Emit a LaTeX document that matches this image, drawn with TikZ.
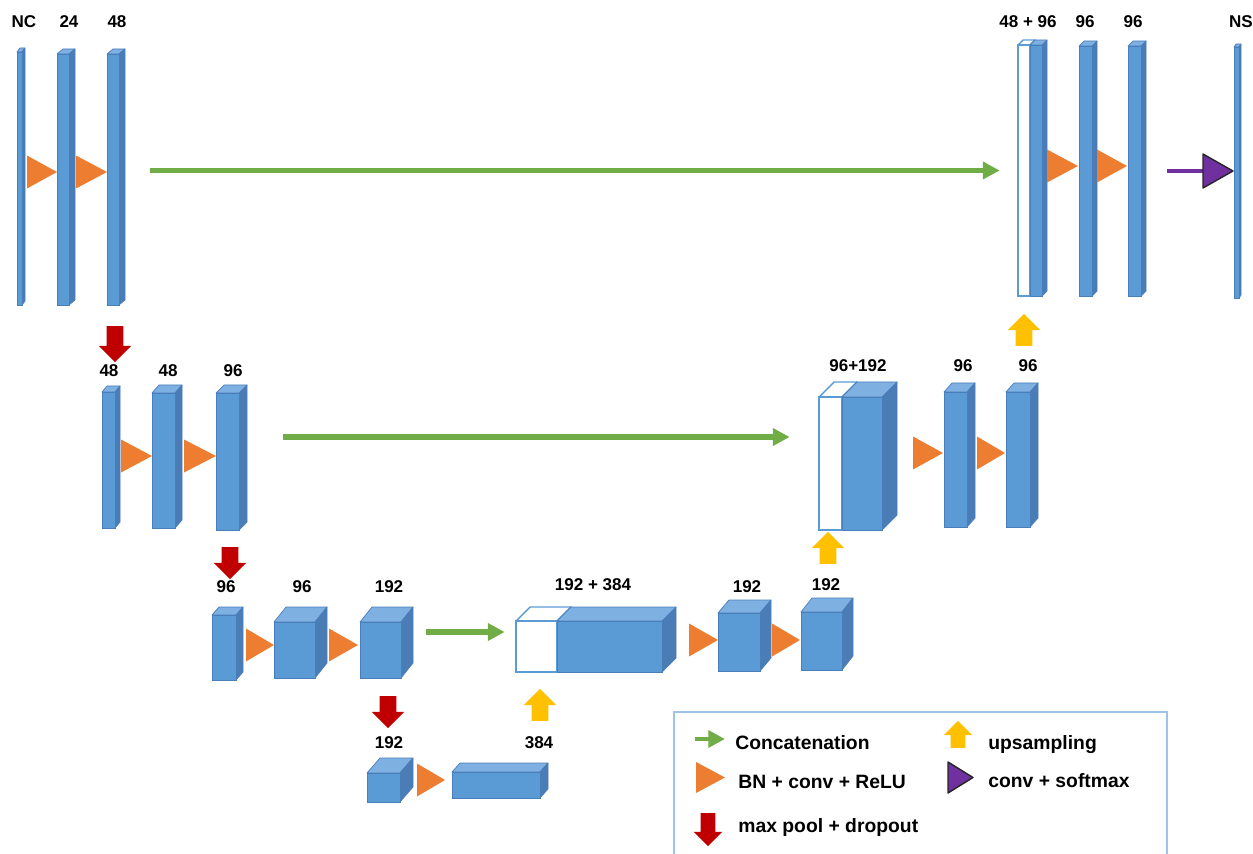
\documentclass[tikz,border=0pt]{standalone}
\usepackage{fontspec}
\setmainfont{Liberation Sans}
\definecolor{BlockBlue}{HTML}{5B9BD5}
\definecolor{BlockTop}{HTML}{7FB0E2}
\definecolor{BlockSide}{HTML}{4A7DB5}
\definecolor{BlockEdge}{HTML}{4A7EBB}
\definecolor{ReluOrange}{HTML}{ED7D31}
\definecolor{ConcatGreen}{HTML}{70AD47}
\definecolor{PoolRed}{HTML}{C00000}
\definecolor{UpYellow}{HTML}{FFC000}
\definecolor{SoftPurple}{HTML}{7030A0}
\definecolor{LegendBlue}{HTML}{9DC3E6}
\usetikzlibrary{arrows.meta,calc,fit,shapes.arrows,positioning}

\tikzset{
  blocktop/.style={fill=BlockTop,draw=BlockEdge,line width=0.4pt,line join=round},
  blockside/.style={fill=BlockSide,draw=BlockEdge,line width=0.4pt,line join=round},
  blockfront/.style={fill=BlockBlue,draw=BlockEdge,line width=0.4pt},
  ghost/.style={fill=white,draw=BlockBlue,line width=0.8pt},
  lbl/.style={font=\fontsize{9.7}{11}\selectfont\bfseries,inner sep=0pt,anchor=base},
  legtxt/.style={font=\fontsize{11}{13}\selectfont\bfseries,inner sep=0pt,anchor=base west},
  concat/.style={draw=ConcatGreen,line width=2.9pt,-{Triangle[length=9.5pt,width=9.5pt]}},
  blockarrow/.style={single arrow,draw=none,inner xsep=0pt,inner ysep=0.16cm,minimum width=0.64cm,
    minimum height=0.64cm,single arrow head extend=0.16cm,single arrow head indent=0pt},
  pool/.style={blockarrow,fill=PoolRed,rotate=-90},
  upsample/.style={blockarrow,fill=UpYellow,rotate=90},
}

% #2 name, (#3,#4) front top left, (#5,#6) front bottom right, (#7,#8) depth
\newcommand{\block}[8][]{%
  \filldraw[blocktop,#1] (#3,#4) -- ++(#7,-#8) -- (#5+#7,#4-#8) -- (#5,#4) -- cycle;
  \filldraw[blockside,#1] (#5,#4) -- ++(#7,-#8) -- (#5+#7,#6-#8) -- (#5,#6) -- cycle;
  \filldraw[blockfront,#1] (#3,#4) rectangle (#5,#6);
  \node[inner sep=0pt,fit={(#3,#4) (#5,#6)}] (#2) {};}
\newcommand{\relu}[3]{\fill[ReluOrange] (#1,#3-16.5) -- (#2,#3) -- (#1,#3+16.5) -- cycle;}

\begin{document}
\begin{tikzpicture}[x=0.02cm,y=-0.02cm,>=Latex]
  \useasboundingbox (0,0) rectangle (1253,854);

  % encoder, level 1
  \block{bNC}{17}{52}{22}{305}{3}{4}
  \block{b24}{57}{54}{69}{305}{6}{5}
  \block{b48a}{107}{54}{119}{305}{6}{5}
  \relu{27}{57}{172}
  \relu{76}{107}{172}
  \node[lbl] (lNC) at (24,28) {NC};
  \node[lbl] (l24) at (69,28) {24};
  \node[lbl] (l48a) at (117,28) {48};

  % decoder, level 1
  \block[ghost]{w1}{1018}{45}{1030}{296}{5}{5}
  \block{b4896}{1030}{45}{1042}{296}{5}{5}
  \block{b96a}{1079}{46}{1092}{296}{5}{5}
  \block{b96b}{1128}{46}{1141}{296}{5}{5}
  \block{bNS}{1234}{47}{1239}{298}{2}{3}
  \relu{1047}{1078}{166}
  \relu{1097}{1127}{166}
  \node[lbl] (l4896) at (1028,28) {48 + 96};
  \node[lbl] (l96a) at (1085,28) {96};
  \node[lbl] (l96b) at (1133,28) {96};
  \node[lbl] (lNS) at (1241,28) {NS};
  \coordinate (smx) at (1203,171);
  \draw[SoftPurple,line width=2.8pt,shorten <=0.52cm] (b96b.east) -- (smx);
  \filldraw[fill=SoftPurple,draw=black!85,line width=0.8pt,line join=round]
    (smx) ++(0,-17) -- (1233,171) -- (1203,188) -- cycle;
  \draw[concat,shorten <=0.62cm,shorten >=0.36cm] (b48a.east |- w1.west) -- (w1.west);

  % encoder, level 2
  \node[pool,minimum height=0.72cm] (p1) at (115,340) {};
  \block{b48b}{102}{392}{115}{528}{5}{6}
  \block{b48c}{152}{393}{175}{528}{7}{8}
  \block{b96c}{216}{393}{239}{530}{8}{8}
  \relu{121}{152}{456}
  \relu{184}{216}{456}
  \node[lbl] (l48b) at (109,377) {48};
  \node[lbl] (l48c) at (168,377) {48};
  \node[lbl] (l96c) at (233,377) {96};

  % decoder, level 2
  \node[upsample] (u1) at (1024,334) {};
  \block[ghost]{w2}{819}{397}{842}{530}{15}{15}
  \block{b96192}{842}{397}{882}{530}{15}{15}
  \block{b96d}{944}{392}{967}{527}{8}{9}
  \block{b96e}{1006}{392}{1030}{527}{8}{9}
  \relu{913}{943}{453}
  \relu{977}{1005}{453}
  \node[lbl] (l96192) at (858,372) {96+192};
  \node[lbl] (l96d) at (963,372) {96};
  \node[lbl] (l96e) at (1028,372) {96};
  \draw[concat,shorten <=0.88cm,shorten >=0.58cm] (b96c.east |- 0,437) -- (w2.west |- 0,437);

  % encoder, level 3
  \node[pool] (p2) at (230,559) {};
  \block{b96f}{212}{615}{236}{680}{7}{8}
  \block{b96g}{274}{622}{315}{678}{12}{15}
  \block{b192a}{360}{622}{401}{678}{12}{15}
  \relu{246}{274}{645}
  \relu{329}{358}{645}
  \node[lbl] (l96f) at (226,592) {96};
  \node[lbl] (l96g) at (302,592) {96};
  \node[lbl] (l192a) at (389,592) {192};

  % decoder, level 3
  \node[upsample] (u2) at (828,552) {};
  \block[ghost]{w3}{516}{621}{557}{672}{14}{14}
  \block{b192384}{557}{621}{662}{672}{14}{14}
  \block{b192b}{718}{613}{760}{671}{11}{13}
  \block{b192c}{801}{612}{842}{670}{11}{14}
  \relu{689}{718}{640}
  \relu{772}{800}{640}
  \node[lbl] (l192384) at (593,590) {192 + 384};
  \node[lbl] (l192b) at (747,592) {192};
  \node[lbl] (l192c) at (826,590) {192};
  \draw[concat,shorten <=0.5cm,shorten >=0.22cm] (b192a.east |- 0,632) -- (w3.west |- 0,632);

  % bottleneck
  \node[pool] (p3) at (388,708) {};
  \node[upsample] (u3) at (540,709) {};
  \block{b192d}{367}{773}{400}{802}{13}{15}
  \block{b384}{452}{772}{540}{798}{8}{9}
  \relu{417}{445}{780}
  \node[lbl] (l192d) at (389,748) {192};
  \node[lbl] (l384) at (539,748) {384};

  % legend
  \draw[LegendBlue,line width=1.2pt] (674,870) |- (1167,712) -- (1167,870);
  \draw[concat,line width=2.4pt] (695,739) -- (725,739);
  \node[upsample,inner ysep=0.14cm,minimum width=0.56cm,minimum height=0.54cm,
    single arrow head extend=0.14cm] (uL) at (958,738) {};
  \fill[ReluOrange] (696,762) -- (725,777.5) -- (696,793) -- cycle;
  \filldraw[fill=SoftPurple,draw=black!85,line width=0.8pt,line join=round]
    (948,762) -- (973,777.5) -- (948,793) -- cycle;
  \node[pool,inner ysep=0.14cm,minimum width=0.56cm,minimum height=0.66cm,
    single arrow head extend=0.14cm] (pL) at (708,826) {};
  \node[legtxt] (tConcat) at (735,749) {Concatenation};
  \node[legtxt] (tUp) at (988,749) {upsampling};
  \node[legtxt] (tRelu) at (738,788) {BN + conv + ReLU};
  \node[legtxt] (tSoft) at (988,787) {conv + softmax};
  \node[legtxt] (tPool) at (738,832) {max pool + dropout};
\end{tikzpicture}
\end{document}
